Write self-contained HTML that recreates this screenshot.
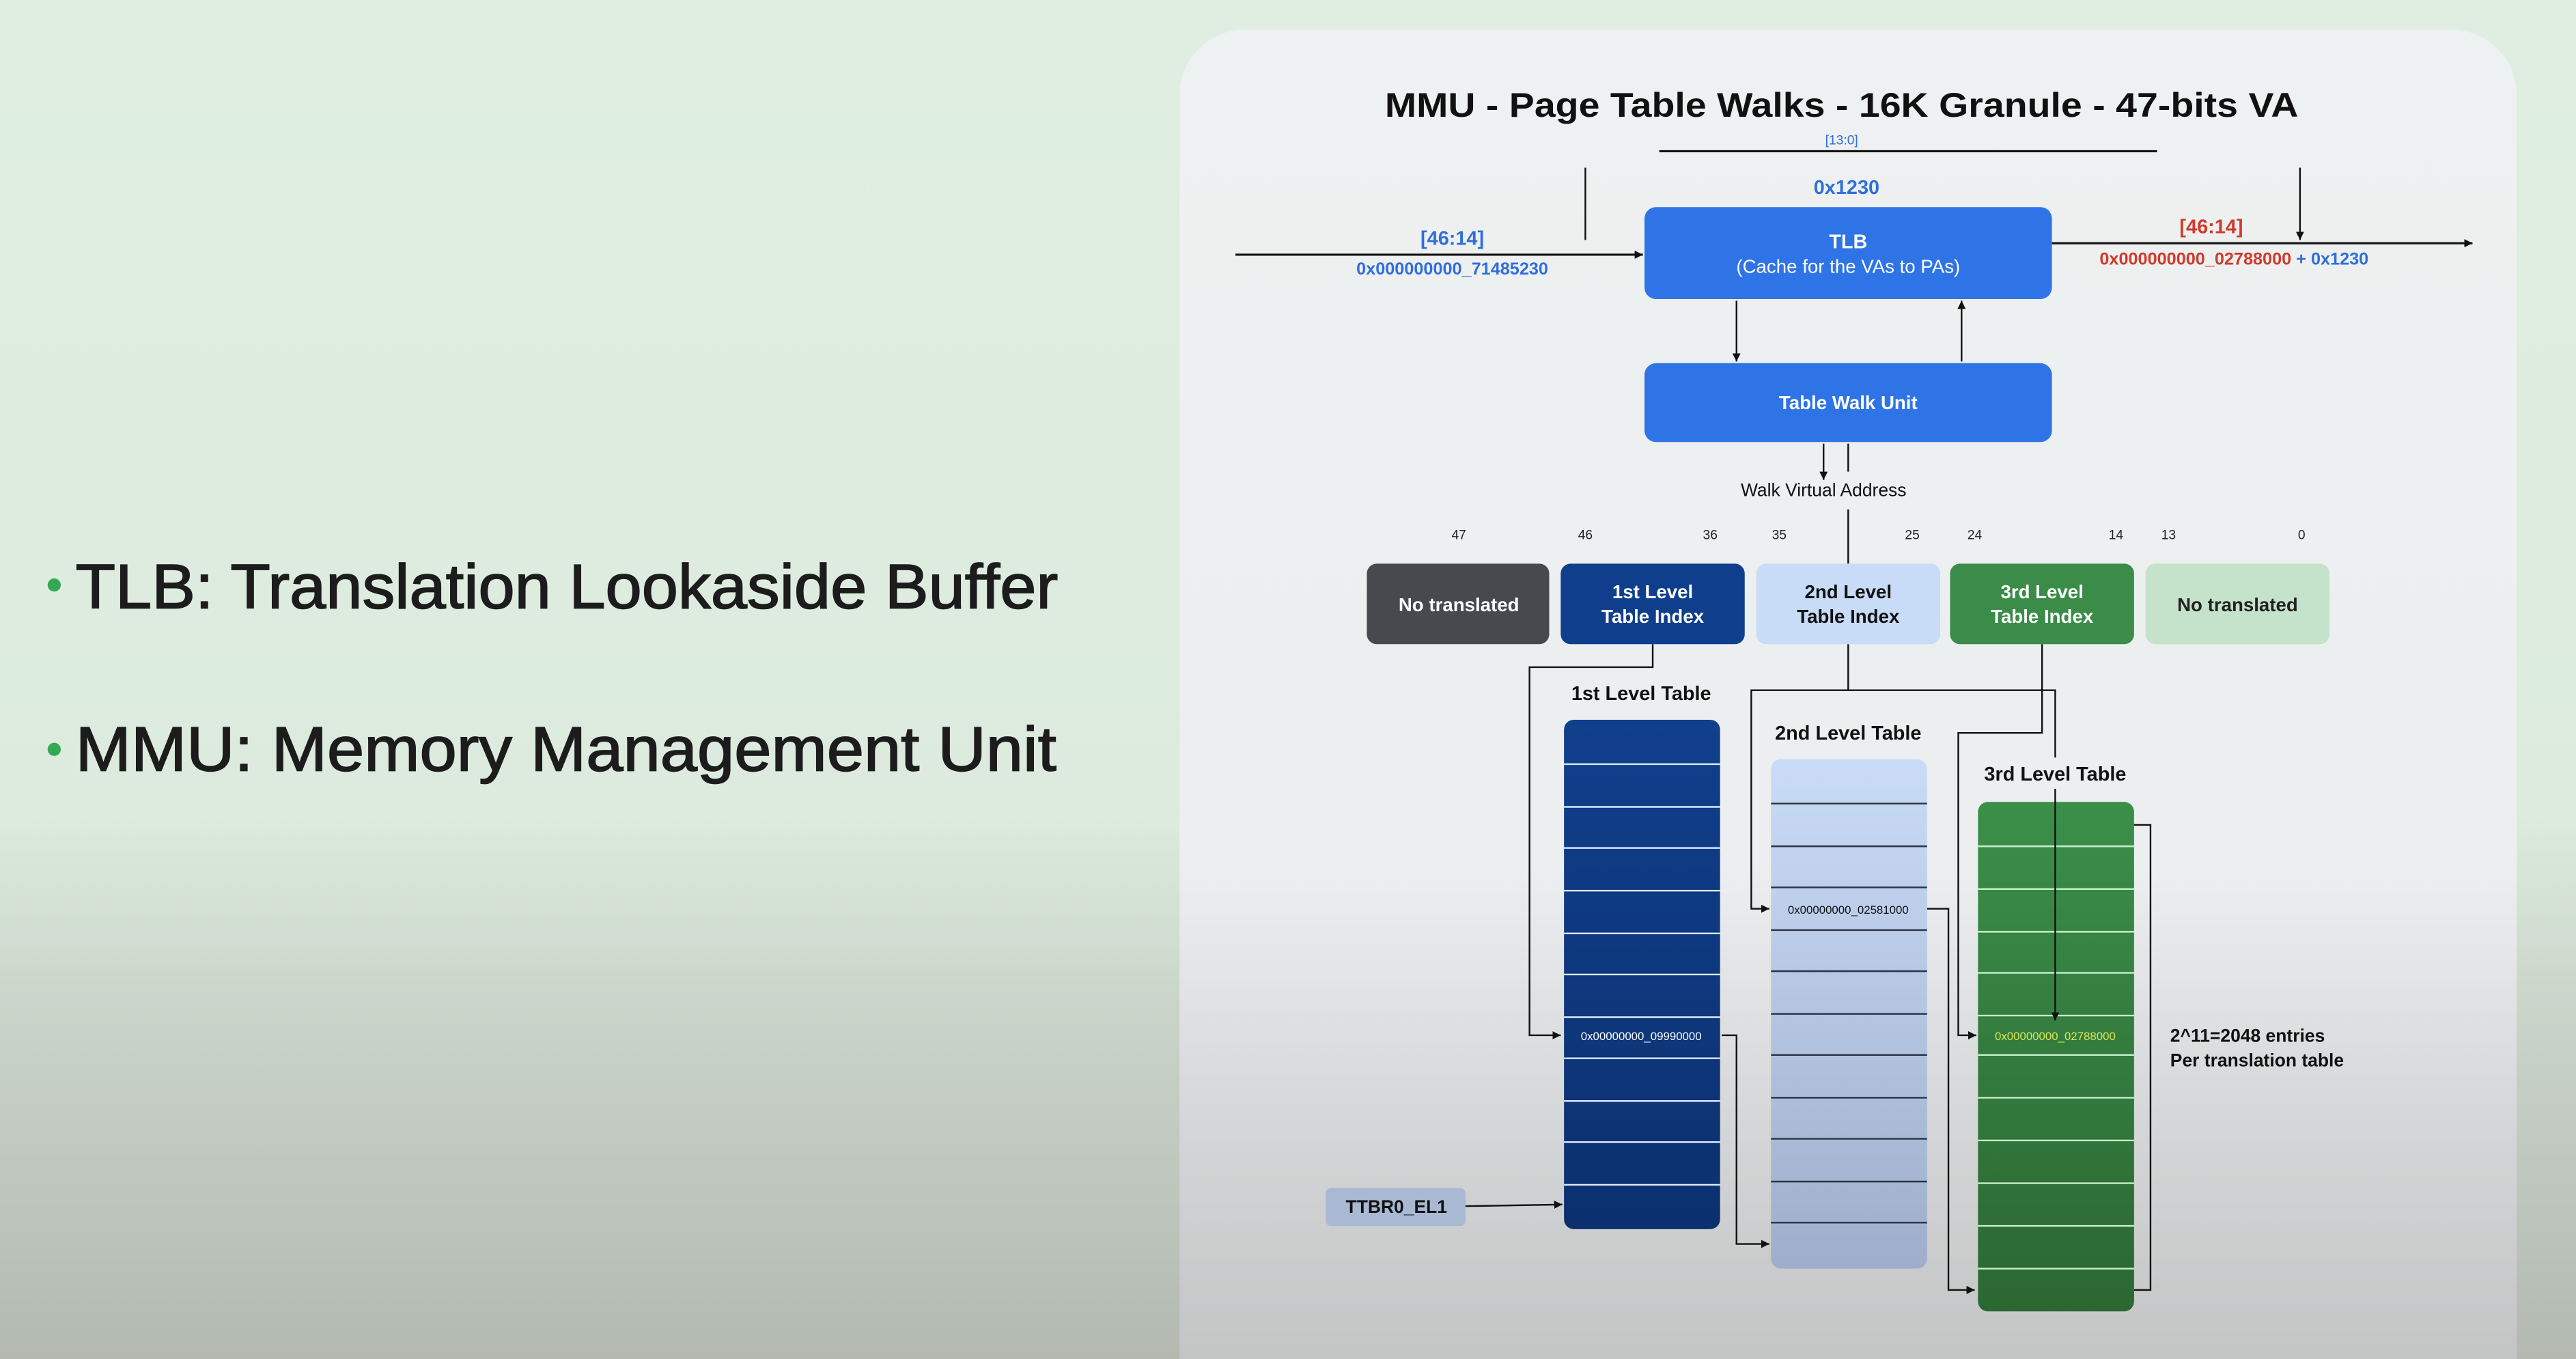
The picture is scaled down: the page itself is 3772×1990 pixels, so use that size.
<!DOCTYPE html>
<html><head><meta charset="utf-8"><style>
html,body{margin:0;padding:0;width:3772px;height:1990px;overflow:hidden}
svg{display:block}
text{font-family:"Liberation Sans",sans-serif}
</style></head><body>
<svg width="3772" height="1990" viewBox="0 0 1568 827" preserveAspectRatio="none" xmlns="http://www.w3.org/2000/svg">
<defs>
<linearGradient id="bg" x1="0" y1="0" x2="0" y2="1">
<stop offset="0" stop-color="#dfeee1"/><stop offset="0.6" stop-color="#dcebde"/><stop offset="0.75" stop-color="#c9d3c8"/><stop offset="1" stop-color="#b3b9b1"/></linearGradient>
<linearGradient id="card" x1="0" y1="0" x2="0" y2="1">
<stop offset="0" stop-color="#eef1f1"/><stop offset="0.6" stop-color="#eceeef"/><stop offset="0.8" stop-color="#d2d4d5"/><stop offset="1" stop-color="#bfc0c0"/></linearGradient>
<linearGradient id="t1" x1="0" y1="0" x2="0" y2="1"><stop offset="0" stop-color="#103f8c"/><stop offset="1" stop-color="#0c306e"/></linearGradient>
<linearGradient id="t2" x1="0" y1="0" x2="0" y2="1"><stop offset="0" stop-color="#c9dcf7"/><stop offset="1" stop-color="#9eaecb"/></linearGradient>
<linearGradient id="t3" x1="0" y1="0" x2="0" y2="1"><stop offset="0" stop-color="#3b8f49"/><stop offset="1" stop-color="#2b6732"/></linearGradient>
<marker id="a" markerWidth="6" markerHeight="6" refX="5" refY="3" orient="auto" markerUnits="userSpaceOnUse"><path d="M0,0.5 L5,3 L0,5.5z" fill="#111"/></marker>
</defs>
<rect width="1568" height="827" fill="url(#bg)"/>
<rect x="718" y="18" width="814" height="850" rx="40" fill="url(#card)"/>

<circle cx="33" cy="356" r="4" fill="#34a853"/>
<text x="46" y="370" font-size="38" fill="#1c1c1c" stroke="#1c1c1c" stroke-width="0.7" textLength="598" lengthAdjust="spacingAndGlyphs">TLB: Translation Lookaside Buffer</text>
<circle cx="33" cy="456" r="4" fill="#34a853"/>
<text x="46" y="469" font-size="38" fill="#1c1c1c" stroke="#1c1c1c" stroke-width="0.7" textLength="597" lengthAdjust="spacingAndGlyphs">MMU: Memory Management Unit</text>

<text x="1121" y="71" font-size="21" font-weight="bold" fill="#111" text-anchor="middle" textLength="556" lengthAdjust="spacingAndGlyphs">MMU - Page Table Walks - 16K Granule - 47-bits VA</text>
<g fill="none" stroke="#111" stroke-width="1">
<line x1="1010" y1="92" x2="1313" y2="92" stroke-width="1.3"/>
<line x1="965" y1="102" x2="965" y2="146"/>
<line x1="1400" y1="102" x2="1400" y2="146" marker-end="url(#a)"/>
<line x1="752" y1="155" x2="1000" y2="155" stroke-width="1.3" marker-end="url(#a)"/>
<line x1="1249" y1="148" x2="1505" y2="148" stroke-width="1.3" marker-end="url(#a)"/>
<line x1="1057" y1="183" x2="1057" y2="220" marker-end="url(#a)"/>
<line x1="1194" y1="220" x2="1194" y2="183" marker-end="url(#a)"/>
<line x1="1110" y1="270" x2="1110" y2="292" marker-end="url(#a)"/>
<line x1="1125" y1="270" x2="1125" y2="287"/>
<line x1="1125" y1="310" x2="1125" y2="343"/>
<polyline points="1006,392 1006,406 931,406 931,630 950,630" marker-end="url(#a)"/>
<polyline points="1125,392 1125,420 1066,420 1066,553 1077,553" marker-end="url(#a)"/>
<polyline points="1125,420 1251,420 1251,461"/>
<polyline points="1243,392 1243,446 1192,446 1192,630 1203,630" marker-end="url(#a)"/>
<polyline points="1048,630 1057,630 1057,757 1077,757" marker-end="url(#a)"/>
<polyline points="1173,553 1186,553 1186,785 1202,785" marker-end="url(#a)"/>
<polyline points="1299,502 1309,502 1309,785 1299,785"/>
<line x1="892" y1="734" x2="951" y2="733" marker-end="url(#a)"/>
</g>
<text x="1121" y="88" font-size="8" fill="#2f6fdc" text-anchor="middle">[13:0]</text>
<text x="1124" y="118" font-size="12" font-weight="bold" fill="#2f6fdc" text-anchor="middle">0x1230</text>
<text x="884" y="149" font-size="12" font-weight="bold" fill="#2f6fdc" text-anchor="middle">[46:14]</text>
<text x="884" y="167" font-size="10.5" font-weight="bold" fill="#2f6fdc" text-anchor="middle">0x000000000_71485230</text>
<text x="1346" y="142" font-size="12" font-weight="bold" fill="#d03a2c" text-anchor="middle">[46:14]</text>
<text x="1278" y="161" font-size="10.5" font-weight="bold" fill="#d03a2c">0x000000000_02788000 <tspan fill="#2f6fdc">+ 0x1230</tspan></text>

<rect x="1001" y="126" width="248" height="56" rx="7" fill="#2f74e6"/>
<text x="1125" y="151" font-size="12" font-weight="bold" fill="#fff" text-anchor="middle">TLB</text>
<text x="1125" y="166" font-size="11.5" fill="#fff" text-anchor="middle">(Cache for the VAs to PAs)</text>
<rect x="1001" y="221" width="248" height="48" rx="7" fill="#2f74e6"/>
<text x="1125" y="249" font-size="11.5" font-weight="bold" fill="#fff" text-anchor="middle">Table Walk Unit</text>
<text x="1110" y="302" font-size="11" fill="#111" text-anchor="middle">Walk Virtual Address</text>

<g font-size="8" fill="#222" text-anchor="middle">
<text x="888" y="328">47</text><text x="965" y="328">46</text><text x="1041" y="328">36</text><text x="1083" y="328">35</text><text x="1164" y="328">25</text><text x="1202" y="328">24</text><text x="1288" y="328">14</text><text x="1320" y="328">13</text><text x="1401" y="328">0</text>
</g>
<rect x="832" y="343" width="111" height="49" rx="6" fill="#46494e"/>
<rect x="950" y="343" width="112" height="49" rx="6" fill="#0f3f8c"/>
<rect x="1069" y="343" width="112" height="49" rx="6" fill="#c8dbf7"/>
<rect x="1187" y="343" width="112" height="49" rx="6" fill="#3a8c48"/>
<rect x="1306" y="343" width="112" height="49" rx="6" fill="#c5e3cb"/>
<g font-size="11.5" font-weight="bold" text-anchor="middle">
<text x="888" y="372" fill="#fff">No translated</text>
<text x="1006" y="364" fill="#fff">1st Level</text><text x="1006" y="379" fill="#fff">Table Index</text>
<text x="1125" y="364" fill="#111">2nd Level</text><text x="1125" y="379" fill="#111">Table Index</text>
<text x="1243" y="364" fill="#fff">3rd Level</text><text x="1243" y="379" fill="#fff">Table Index</text>
<text x="1362" y="372" fill="#222">No translated</text>
</g>

<g font-size="12" font-weight="bold" fill="#111" text-anchor="middle">
<text x="999" y="426">1st Level Table</text>
<text x="1125" y="450">2nd Level Table</text>
<text x="1251" y="475">3rd Level Table</text>
</g>
<rect x="952" y="438" width="95" height="310" rx="6" fill="url(#t1)"/>
<rect x="1078" y="462" width="95" height="310" rx="6" fill="url(#t2)"/>
<rect x="1204" y="488" width="95" height="310" rx="6" fill="url(#t3)"/>
<g stroke-width="1">
<g stroke="#dfe9ff">
<line x1="952" y1="465" x2="1047" y2="465"/><line x1="952" y1="491" x2="1047" y2="491"/><line x1="952" y1="516" x2="1047" y2="516"/><line x1="952" y1="542" x2="1047" y2="542"/><line x1="952" y1="568" x2="1047" y2="568"/><line x1="952" y1="593" x2="1047" y2="593"/><line x1="952" y1="619" x2="1047" y2="619"/><line x1="952" y1="644" x2="1047" y2="644"/><line x1="952" y1="670" x2="1047" y2="670"/><line x1="952" y1="695" x2="1047" y2="695"/><line x1="952" y1="721" x2="1047" y2="721"/>
</g>
<g stroke="#2a3340">
<line x1="1078" y1="489" x2="1173" y2="489"/><line x1="1078" y1="515" x2="1173" y2="515"/><line x1="1078" y1="540" x2="1173" y2="540"/><line x1="1078" y1="566" x2="1173" y2="566"/><line x1="1078" y1="591" x2="1173" y2="591"/><line x1="1078" y1="617" x2="1173" y2="617"/><line x1="1078" y1="642" x2="1173" y2="642"/><line x1="1078" y1="668" x2="1173" y2="668"/><line x1="1078" y1="693" x2="1173" y2="693"/><line x1="1078" y1="719" x2="1173" y2="719"/><line x1="1078" y1="744" x2="1173" y2="744"/>
</g>
<g stroke="#c9efcc">
<line x1="1204" y1="515" x2="1299" y2="515"/><line x1="1204" y1="541" x2="1299" y2="541"/><line x1="1204" y1="567" x2="1299" y2="567"/><line x1="1204" y1="592" x2="1299" y2="592"/><line x1="1204" y1="618" x2="1299" y2="618"/><line x1="1204" y1="642" x2="1299" y2="642"/><line x1="1204" y1="668" x2="1299" y2="668"/><line x1="1204" y1="694" x2="1299" y2="694"/><line x1="1204" y1="720" x2="1299" y2="720"/><line x1="1204" y1="746" x2="1299" y2="746"/><line x1="1204" y1="772" x2="1299" y2="772"/>
</g>
</g>
<line x1="1251" y1="480" x2="1251" y2="621" stroke="#111" stroke-width="1" marker-end="url(#a)"/>
<text x="999" y="633" font-size="7" fill="#fff" text-anchor="middle">0x00000000_09990000</text>
<text x="1125" y="556" font-size="7" fill="#111" text-anchor="middle">0x00000000_02581000</text>
<text x="1251" y="633" font-size="7" fill="#d9e85a" text-anchor="middle">0x00000000_02788000</text>
<text x="1321" y="634" font-size="11" font-weight="bold" fill="#111">2^11=2048 entries</text>
<text x="1321" y="649" font-size="11" font-weight="bold" fill="#111">Per translation table</text>
<rect x="807" y="723" width="85" height="23" rx="3" fill="#a9b9d4"/>
<text x="850" y="738" font-size="11" font-weight="bold" fill="#111" text-anchor="middle">TTBR0_EL1</text>
</svg>
</body></html>
